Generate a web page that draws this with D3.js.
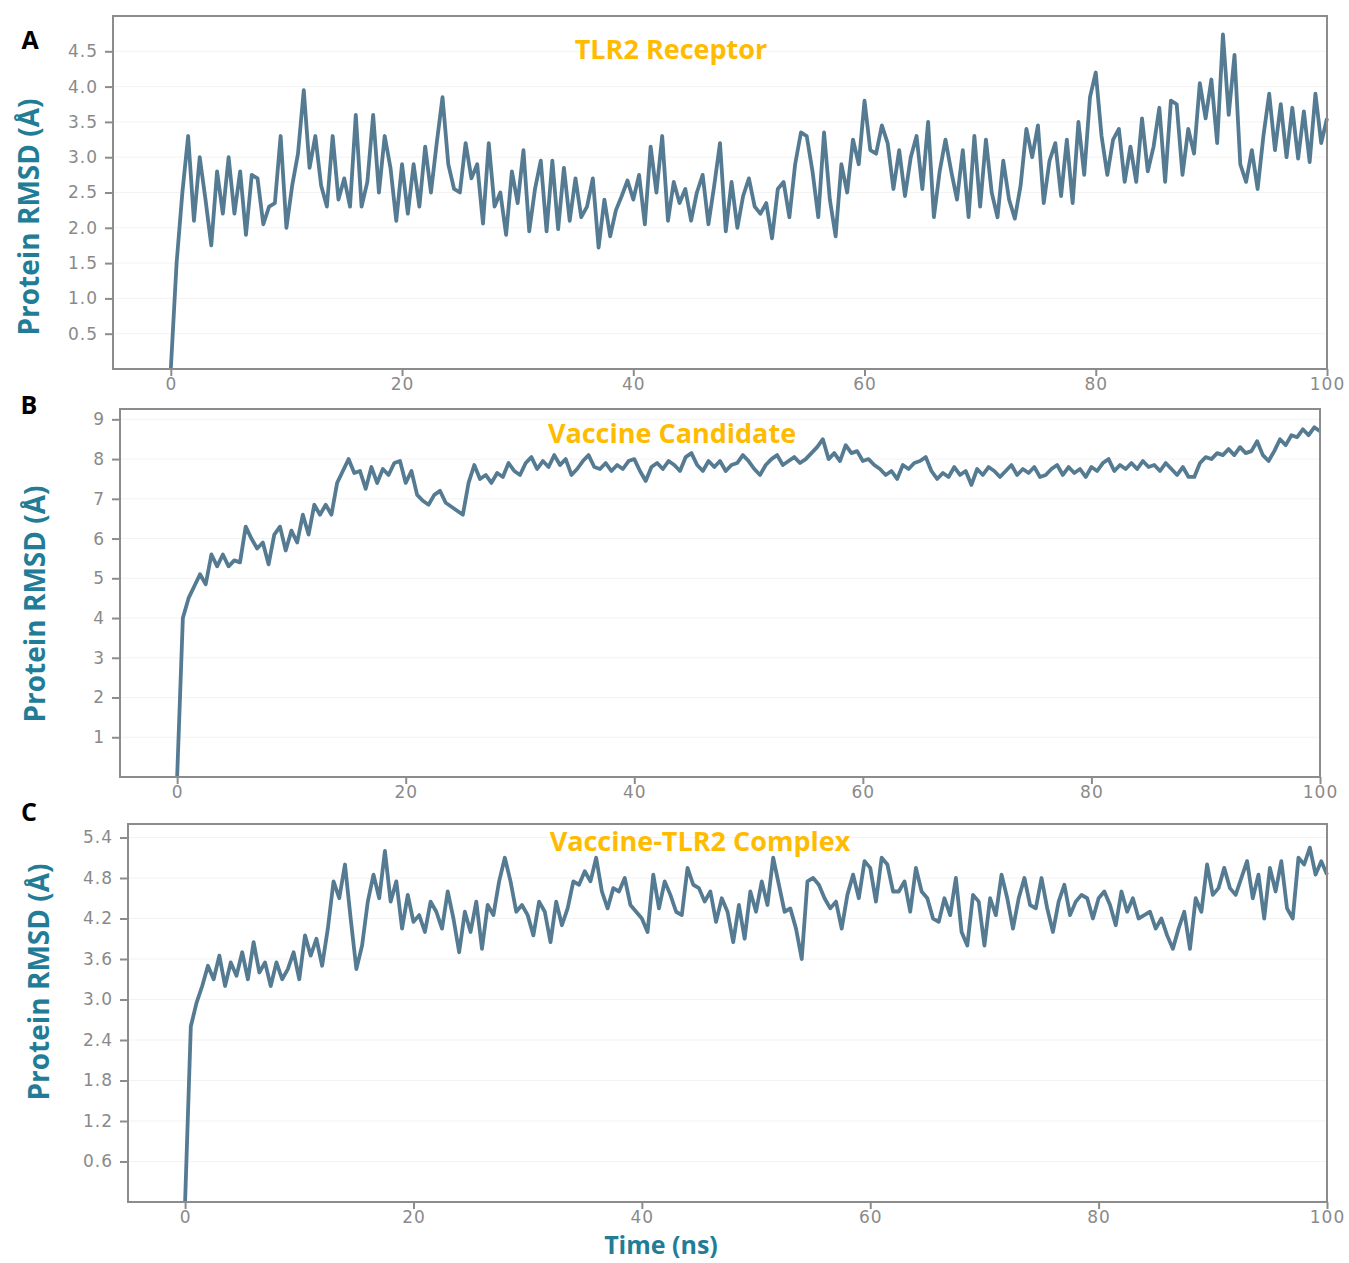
<!DOCTYPE html>
<html>
<head>
<meta charset="utf-8">
<script src="https://cdn.jsdelivr.net/npm/d3@7"></script>
<style>
  body { margin: 0; background: #fff; }
  .tick text { font-family: "DejaVu Sans", sans-serif; fill: #8a8a8a; }
</style>
</head>
<body>
<svg width="1349" height="1263"></svg>
<script>
// ---------------- data (RMSD, one value every 0.5 ns) ----------------
const timeStep = 0.5;
const xTicks = [0, 20, 40, 60, 80, 100];

const tlr2Rmsd = [
  0, 1.5, 2.5, 3.3, 2.1, 3.0, 2.4, 1.75, 2.8, 2.2,
  3.0, 2.2, 2.8, 1.9, 2.75, 2.7, 2.05, 2.3, 2.35, 3.3,
  2.0, 2.6, 3.05, 3.95, 2.85, 3.3, 2.6, 2.3, 3.3, 2.4,
  2.7, 2.3, 3.6, 2.3, 2.65, 3.6, 2.5, 3.3, 2.85, 2.1,
  2.9, 2.2, 2.9, 2.3, 3.15, 2.5, 3.2, 3.85, 2.9, 2.55,
  2.5, 3.2, 2.7, 2.9, 2.06, 3.2, 2.3, 2.5, 1.9, 2.8,
  2.35, 3.1, 1.95, 2.55, 2.95, 1.95, 2.95, 1.98, 2.85, 2.1,
  2.7, 2.15, 2.3, 2.7, 1.72, 2.4, 1.88, 2.25, 2.45, 2.67,
  2.4, 2.75, 2.05, 3.15, 2.5, 3.3, 2.1, 2.65, 2.35, 2.55,
  2.1, 2.5, 2.75, 2.05, 2.6, 3.2, 1.95, 2.65, 2.0, 2.45,
  2.7, 2.3, 2.2, 2.35, 1.85, 2.55, 2.65, 2.15, 2.9, 3.35,
  3.3, 2.8, 2.15, 3.35, 2.4, 1.88, 2.9, 2.5, 3.25, 2.9,
  3.8, 3.1, 3.05, 3.45, 3.2, 2.55, 3.1, 2.45, 3.0, 3.3,
  2.55, 3.5, 2.15, 2.8, 3.25, 2.8, 2.4, 3.1, 2.15, 3.3,
  2.3, 3.25, 2.5, 2.15, 2.95, 2.4, 2.13, 2.6, 3.4, 3.0,
  3.45, 2.35, 2.95, 3.2, 2.45, 3.25, 2.35, 3.5, 2.75, 3.85,
  4.2, 3.3, 2.75, 3.25, 3.4, 2.65, 3.15, 2.65, 3.55, 2.8,
  3.15, 3.7, 2.65, 3.8, 3.75, 2.75, 3.4, 3.05, 4.05, 3.55,
  4.1, 3.2, 4.74, 3.6, 4.45, 2.9, 2.65, 3.1, 2.55, 3.3,
  3.9, 3.1, 3.75, 3.0, 3.7, 2.98, 3.65, 2.93, 3.9, 3.2,
  3.55
];

const vaccineRmsd = [
  0, 4.0, 4.5, 4.8, 5.1, 4.85, 5.6, 5.3, 5.6, 5.3,
  5.45, 5.4, 6.3, 6.0, 5.75, 5.9, 5.35, 6.1, 6.3, 5.7,
  6.2, 5.9, 6.6, 6.1, 6.85, 6.6, 6.85, 6.6, 7.4, 7.7,
  8.0, 7.65, 7.7, 7.25, 7.8, 7.4, 7.75, 7.6, 7.9, 7.95,
  7.4, 7.7, 7.1, 6.95, 6.85, 7.1, 7.2, 6.9, 6.8, 6.7,
  6.6, 7.4, 7.85, 7.5, 7.6, 7.4, 7.65, 7.55, 7.9, 7.7,
  7.6, 7.9, 8.05, 7.75, 7.95, 7.8, 8.1, 7.85, 8.0, 7.6,
  7.75, 7.95, 8.1, 7.8, 7.75, 7.9, 7.7, 7.85, 7.75, 7.95,
  8.0, 7.7, 7.45, 7.8, 7.9, 7.75, 7.95, 7.85, 7.7, 8.05,
  8.15, 7.85, 7.7, 7.95, 7.8, 7.95, 7.7, 7.85, 7.9, 8.1,
  7.95, 7.75, 7.6, 7.85, 8.0, 8.1, 7.85, 7.95, 8.05, 7.9,
  8.0, 8.15, 8.3, 8.5, 8.0, 8.15, 7.95, 8.35, 8.15, 8.2,
  7.95, 8.0, 7.85, 7.75, 7.6, 7.7, 7.5, 7.85, 7.75, 7.9,
  7.95, 8.05, 7.7, 7.5, 7.65, 7.55, 7.8, 7.6, 7.7, 7.35,
  7.75, 7.6, 7.8, 7.7, 7.55, 7.7, 7.85, 7.6, 7.75, 7.65,
  7.8, 7.55, 7.6, 7.75, 7.85, 7.6, 7.8, 7.65, 7.75, 7.55,
  7.8, 7.7, 7.9, 8.0, 7.7, 7.85, 7.75, 7.9, 7.75, 7.95,
  7.8, 7.85, 7.7, 7.9, 7.75, 7.6, 7.8, 7.55, 7.55, 7.9,
  8.05, 8.0, 8.15, 8.1, 8.25, 8.1, 8.3, 8.15, 8.2, 8.45,
  8.1, 7.95, 8.2, 8.5, 8.35, 8.6, 8.55, 8.75, 8.6, 8.8,
  8.7
];

const complexRmsd = [
  0, 2.6, 2.95, 3.2, 3.5, 3.3, 3.65, 3.2, 3.55, 3.35,
  3.7, 3.3, 3.85, 3.4, 3.55, 3.2, 3.55, 3.3, 3.45, 3.7,
  3.3, 3.95, 3.65, 3.9, 3.5, 4.05, 4.75, 4.5, 5.0, 4.2,
  3.45, 3.8, 4.45, 4.85, 4.5, 5.2, 4.45, 4.75, 4.05, 4.55,
  4.15, 4.25, 4.0, 4.45, 4.3, 4.05, 4.6, 4.2, 3.7, 4.3,
  4.0, 4.45, 3.75, 4.4, 4.25, 4.75, 5.1, 4.75, 4.3, 4.4,
  4.25, 3.95, 4.45, 4.3, 3.85, 4.45, 4.1, 4.35, 4.75, 4.7,
  4.9, 4.75, 5.1, 4.6, 4.35, 4.65, 4.6, 4.8, 4.4, 4.3,
  4.2, 4.0, 4.85, 4.35, 4.75, 4.55, 4.3, 4.25, 4.95, 4.7,
  4.65, 4.45, 4.6, 4.15, 4.5, 4.3, 3.85, 4.4, 3.9, 4.6,
  4.3, 4.75, 4.4, 5.1, 4.7, 4.3, 4.35, 4.05, 3.6, 4.75,
  4.8, 4.7, 4.5, 4.35, 4.45, 4.05, 4.55, 4.85, 4.5, 5.05,
  4.95, 4.45, 5.1, 5.0, 4.6, 4.6, 4.75, 4.3, 4.95, 4.6,
  4.5, 4.2, 4.15, 4.5, 4.25, 4.8, 4.0, 3.8, 4.55, 4.45,
  3.8, 4.5, 4.25, 4.85, 4.5, 4.05, 4.5, 4.8, 4.4, 4.35,
  4.8, 4.35, 4.0, 4.45, 4.7, 4.25, 4.45, 4.55, 4.5, 4.2,
  4.5, 4.6, 4.4, 4.1, 4.6, 4.3, 4.5, 4.2, 4.25, 4.3,
  4.05, 4.2, 3.95, 3.75, 4.05, 4.3, 3.75, 4.5, 4.3, 5.0,
  4.55, 4.65, 4.95, 4.65, 4.55, 4.8, 5.05, 4.5, 4.85, 4.2,
  4.95, 4.6, 5.05, 4.35, 4.2, 5.1, 5.0, 5.25, 4.85, 5.05,
  4.85
];

const panelLetters = ["A", "B", "C"];
const panelTitles = ["TLR2 Receptor", "Vaccine Candidate", "Vaccine-TLR2 Complex"];
const yTicksA = [0.5, 1.0, 1.5, 2.0, 2.5, 3.0, 3.5, 4.0, 4.5];
const yTicksB = [1, 2, 3, 4, 5, 6, 7, 8, 9];
const yTicksC = [0.6, 1.2, 1.8, 2.4, 3.0, 3.6, 4.2, 4.8, 5.4];

// ---------------- layout ----------------
const svg = d3.select("svg");
const lineColor = "#557b93";
const frameColor = "#8c8c8c";
const labelColor = "#237c96";
const titleColor = "#ffbb00";

const panels = [
  { values: tlr2Rmsd,    yMax: 5.0,  ticks: yTicksA, fmt: ".1f",
    left: 113, right: 1327, top: 16,  bottom: 369,
    letter: [30, 49], title: [671, 59], ylab: [28, 217] },
  { values: vaccineRmsd, yMax: 9.26, ticks: yTicksB, fmt: "d",
    left: 120, right: 1320, top: 409, bottom: 777,
    letter: [29, 414], title: [672, 443], ylab: [34, 604] },
  { values: complexRmsd, yMax: 5.6,  ticks: yTicksC, fmt: ".1f",
    left: 128, right: 1327, top: 824, bottom: 1202,
    letter: [29, 821], title: [700, 851], ylab: [38, 982] }
];

panels.forEach((p, i) => {
  let x = d3.scaleLinear().domain([-5, 100]).range([p.left, p.right]);
  let y = d3.scaleLinear().domain([0, p.yMax]).range([p.bottom, p.top]);

  let g = svg.append("g");

  // faint horizontal grid
  g.selectAll("line.grid")
    .data(p.ticks)
    .enter()
    .append("line")
    .attr("x1", p.left).attr("x2", p.right)
    .attr("y1", d => y(d)).attr("y2", d => y(d))
    .attr("stroke", "#f3f3f3")
    .attr("stroke-width", 1);

  // series
  let line = d3.line()
    .x((d, k) => x(k * timeStep))
    .y(d => y(d));

  g.append("path")
    .datum(p.values)
    .attr("fill", "none")
    .attr("stroke", lineColor)
    .attr("stroke-width", 3.8)
    .attr("stroke-linejoin", "round")
    .attr("d", line);

  // frame
  g.append("rect")
    .attr("x", p.left).attr("y", p.top)
    .attr("width", p.right - p.left).attr("height", p.bottom - p.top)
    .attr("fill", "none")
    .attr("stroke", frameColor)
    .attr("stroke-width", 2);

  // axes
  let xAxis = g.append("g")
    .attr("transform", `translate(0,${p.bottom})`)
    .call(d3.axisBottom(x).tickValues(xTicks).tickSize(7).tickPadding(2));
  let yAxis = g.append("g")
    .attr("transform", `translate(${p.left},0)`)
    .call(d3.axisLeft(y).tickValues(p.ticks).tickFormat(d3.format(p.fmt)).tickSize(8).tickPadding(7));

  [xAxis, yAxis].forEach(a => {
    a.select(".domain").remove();
    a.selectAll(".tick line").attr("stroke", frameColor).attr("stroke-width", 2);
    a.selectAll(".tick text")
      .attr("font-size", 17)
      .attr("letter-spacing", 1)
      .attr("fill", "#8a8a8a");
  });

  // panel letter
  g.append("text")
    .attr("x", p.letter[0]).attr("y", p.letter[1])
    .attr("text-anchor", "middle")
    .attr("font-family", "Open Sans, sans-serif")
    .attr("font-weight", "bold")
    .attr("font-size", 25)
    .attr("fill", "#000")
    .text(panelLetters[i]);

  // title
  g.append("text")
    .attr("x", p.title[0]).attr("y", p.title[1])
    .attr("text-anchor", "middle")
    .attr("font-family", "Open Sans, sans-serif")
    .attr("font-weight", "bold")
    .attr("font-size", 27)
    .attr("fill", titleColor)
    .text(panelTitles[i]);

  // y label
  g.append("text")
    .attr("transform", `translate(${p.ylab[0]},${p.ylab[1]}) rotate(-90)`)
    .attr("text-anchor", "middle")
    .attr("dominant-baseline", "central")
    .attr("font-family", "Open Sans, sans-serif")
    .attr("font-weight", "bold")
    .attr("font-size", 28)
    .attr("fill", labelColor)
    .text("Protein RMSD (Å)");
});

// shared x label
svg.append("text")
  .attr("x", 661).attr("y", 1254)
  .attr("text-anchor", "middle")
  .attr("font-family", "Open Sans, sans-serif")
  .attr("font-weight", "bold")
  .attr("font-size", 25)
  .attr("fill", labelColor)
  .text("Time (ns)");
</script>
</body>
</html>
